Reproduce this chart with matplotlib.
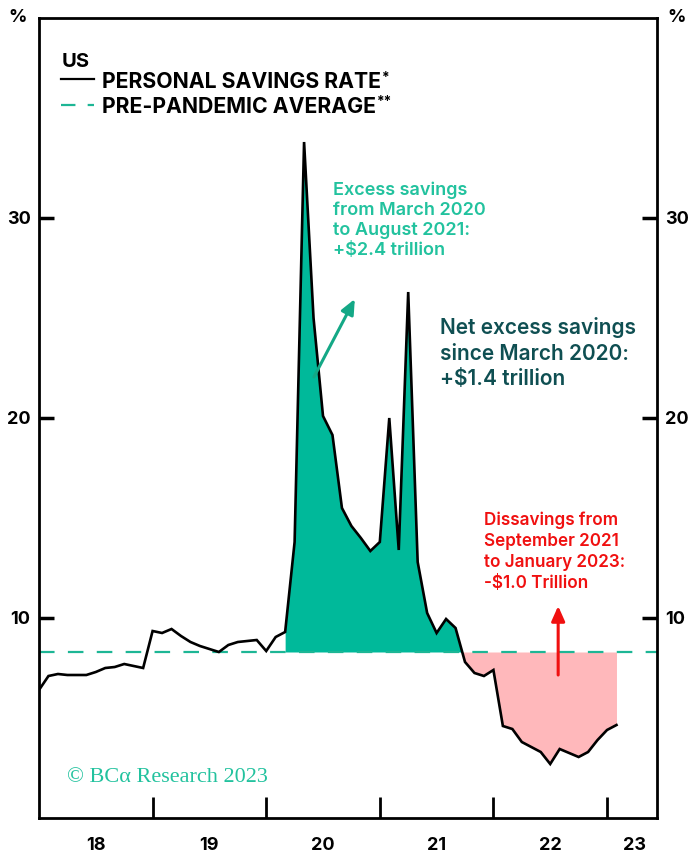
import numpy as np
import pandas as pd
import matplotlib
matplotlib.use('Agg')
import matplotlib.pyplot as plt

plt.rcParams['font.family'] = ['Inter', 'DejaVu Sans']

# monthly personal savings rate, Dec 2017 - Jan 2023 (%)
months = pd.date_range('2017-12-01', '2023-01-01', freq='MS')
savings_rate = [
    6.4,
    7.1, 7.2, 7.15, 7.15, 7.15, 7.3, 7.5, 7.55, 7.7, 7.6, 7.5, 9.35,
    9.25, 9.45, 9.1, 8.8, 8.6, 8.45, 8.3, 8.65, 8.8, 8.85, 8.9, 8.35,
    9.05, 9.3, 13.8, 33.8, 25.0, 20.1, 19.15, 15.5, 14.6, 14.0, 13.35, 13.8,
    20.0, 13.4, 26.3, 12.8, 10.25, 9.25, 9.95, 9.5, 7.8, 7.25, 7.1, 7.4,
    4.6, 4.45, 3.8, 3.55, 3.3, 2.7, 3.45, 3.25, 3.05, 3.3, 3.9, 4.4,
    4.65,
]
pre_pandemic_avg = 8.3
year_labels = ['18', '19', '20', '21', '22', '23']

GREEN = '#00B99A'
DASH = '#1DB695'
PINK = '#FFB8BB'
RED = '#F01010'
DARK_TEAL = '#0F4F52'
TEXT_TEAL = '#22C29E'
HEAVY = 'bold'

# plot each month at its end (Dec 2017 -> 2018.0)
x = np.array([d.year + d.month / 12 for d in months])
y = np.array(savings_rate)

fig = plt.figure(figsize=(6.91, 8.57), dpi=100)
ax = fig.add_axes([39 / 691, 1 - 818 / 857, 618 / 691, 800 / 857])

# shaded excess savings / dissavings from Feb 2020 onwards
start = 26
xs, ys = x[start:], y[start:]
ax.fill_between(xs, ys, pre_pandemic_avg, where=ys >= pre_pandemic_avg,
                interpolate=True, color=GREEN, lw=0, zorder=1)
ax.fill_between(xs, ys, pre_pandemic_avg, where=ys <= pre_pandemic_avg,
                interpolate=True, color=PINK, lw=0, zorder=1)

ax.plot(x, y, color='black', lw=1.9, zorder=3, solid_joinstyle='miter')
ax.axhline(pre_pandemic_avg, color=DASH, lw=1.6, dashes=(7, 6), zorder=2)

ax.set_xlim(2018.0, 2023.44)
ax.set_ylim(0, 40)

for s in ax.spines.values():
    s.set_linewidth(2)

# year ticks on boundaries, labels in the middle of each year
ax.set_xticks([2019, 2020, 2021, 2022, 2023])
ax.set_xticks([2018.5, 2019.5, 2020.5, 2021.5, 2022.5, 2023.24], minor=True)
ax.set_xticklabels(year_labels, minor=True, fontsize=13, fontweight=HEAVY)
ax.tick_params(axis='x', which='major', direction='in', length=15, width=2,
               labelbottom=False)
ax.tick_params(axis='x', which='minor', length=0, pad=14)

ax.set_yticks([10, 20, 30])
ax.tick_params(axis='y', direction='in', length=11, width=2.5,
               labelsize=13, pad=6, left=True, right=True,
               labelleft=True, labelright=True)
for lbl in ax.get_yticklabels():
    lbl.set_fontweight(HEAVY)

ax.text(-0.035, 1.0, '%', transform=ax.transAxes, ha='center', va='center',
        fontsize=13, fontweight=HEAVY)
ax.text(1.031, 1.0, '%', transform=ax.transAxes, ha='center', va='center',
        fontsize=13, fontweight=HEAVY)

# legend
ax.text(0.037, 0.945, 'US', transform=ax.transAxes, ha='left', va='center',
        fontsize=14.5, fontweight=HEAVY)
ax.plot([0.0356, 0.089], [0.924, 0.924], color='black', lw=1.6,
        transform=ax.transAxes, clip_on=False)
ax.plot([0.0356, 0.089], [0.891, 0.891], color=DASH, lw=1.6, dashes=(6.5, 5.5),
        transform=ax.transAxes, clip_on=False)
for ypos, label, star in [(0.92, 'PERSONAL SAVINGS RATE', '*'),
                          (0.889, 'PRE-PANDEMIC AVERAGE', '**')]:
    t = ax.text(0.102, ypos, label, transform=ax.transAxes,
                ha='left', va='center', fontsize=15.3, fontweight=HEAVY)
    ax.annotate(star, xy=(1, 1), xycoords=t, xytext=(0.5, 1),
                textcoords='offset points', ha='left', va='top',
                fontsize=10, fontweight=HEAVY)

# annotations
ax.text(2020.59, 29.9, 'Excess savings\nfrom March 2020\nto August 2021:\n+$2.4 trillion',
        color=TEXT_TEAL, fontsize=13, fontweight='semibold', ha='left',
        va='center', linespacing=1.22, zorder=4)
ax.annotate('', xy=(2020.78, 25.95), xytext=(2020.42, 22.05),
            arrowprops=dict(arrowstyle='-|>,head_length=0.9,head_width=0.4',
                            color='#14A886', lw=2.2, shrinkA=0, shrinkB=0),
            zorder=4)
ax.text(2021.53, 23.25, 'Net excess savings\nsince March 2020:\n+$1.4 trillion',
        color=DARK_TEAL, fontsize=15, fontweight='semibold', ha='left',
        va='center', linespacing=1.37)
ax.text(2021.92, 13.3, 'Dissavings from\nSeptember 2021\nto January 2023:\n-$1.0 Trillion',
        color=RED, fontsize=12.3, fontweight='semibold', ha='left',
        va='center', linespacing=1.3)
ax.annotate('', xy=(2022.57, 10.6), xytext=(2022.57, 7.15),
            arrowprops=dict(arrowstyle='-|>,head_length=0.9,head_width=0.4',
                            color=RED, lw=2.2, shrinkA=0, shrinkB=0),
            zorder=4)

ax.text(2018.25, 2.05, '\u00a9 BC\u03b1 Research 2023', color=TEXT_TEAL,
        fontsize=16, family=['Liberation Serif', 'DejaVu Serif'],
        ha='left', va='center')

fig.savefig('out.png', dpi=100)
